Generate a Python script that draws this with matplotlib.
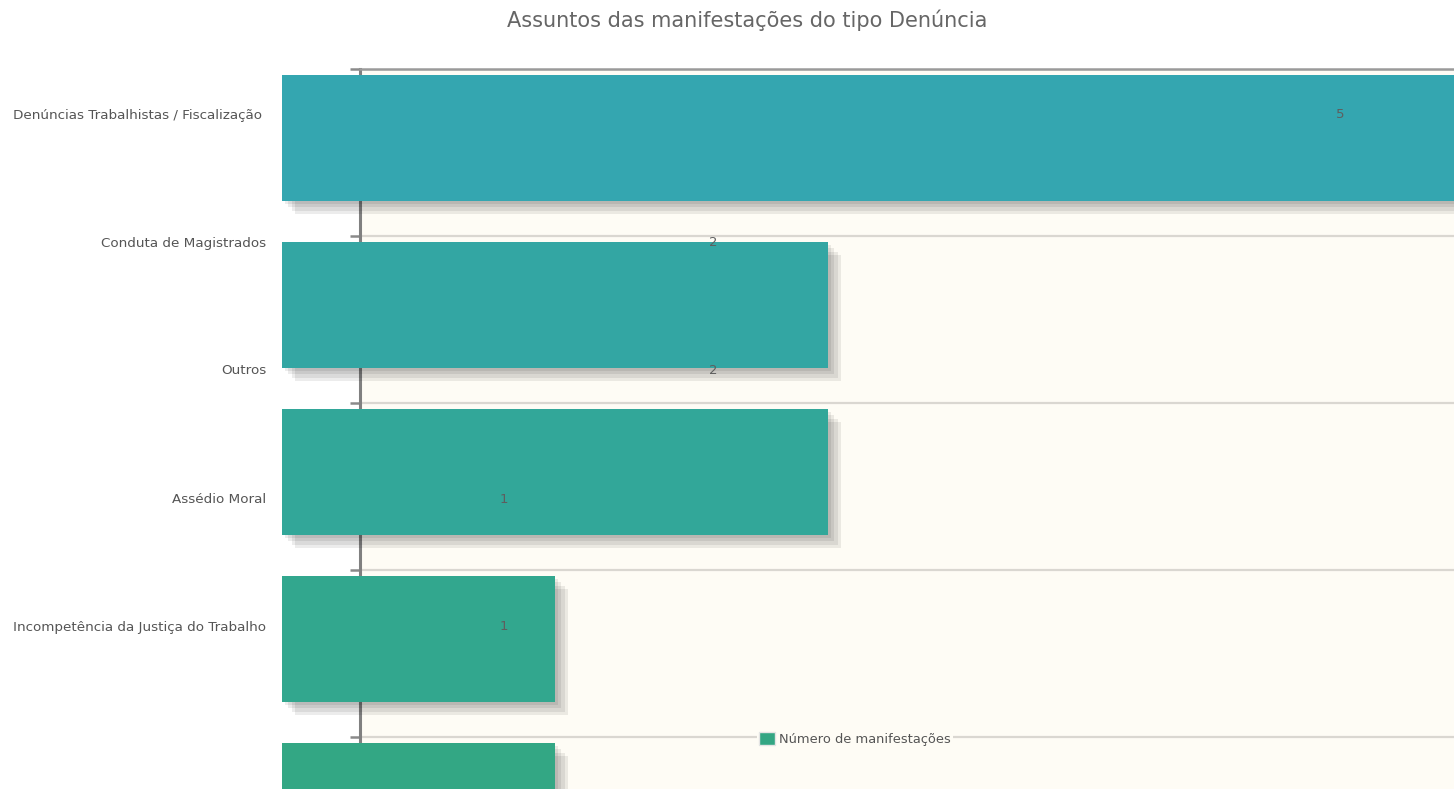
import matplotlib
matplotlib.use("Agg")
import matplotlib.pyplot as plt
import matplotlib.patheffects as pe
from matplotlib.patches import Patch

# ---- data ----
categories = [
    "Denúncias Trabalhistas / Fiscalização ",
    "Conduta de Magistrados",
    "Outros",
    "Assédio Moral",
    "Incompetência da Justiça do Trabalho",
]
values = [5, 2, 2, 1, 1]
bar_colors = ["#34a6b0", "#33a6a3", "#32a799", "#32a78e", "#33a784"]
title = "Assuntos das manifestações do tipo Denúncia"
legend_label = "Número de manifestações"

W, H = 1454, 789
fig = plt.figure(figsize=(W / 100, H / 100), dpi=100)
fig.patch.set_facecolor("white")

# axes geometry (pixels)
ax_left_px, ax_top_px = 360, 68.5
ax = fig.add_axes([ax_left_px / W, 0, 1 - ax_left_px / W, 1 - ax_top_px / H])
ax.set_facecolor("#fefcf5")

x0_px, unit_px = 282, 273       # bar scale
band_px = 167
ax.set_xlim((ax_left_px - x0_px) / unit_px, (W - x0_px) / unit_px)
ax.set_ylim((H - ax_top_px) / band_px, 0)

idx = list(range(len(categories)))
bar_top = [i + 6.5 / band_px for i in idx]
shadow = [pe.SimplePatchShadow(offset=(2.3 * k, -2.3 * k), shadow_rgbFace="black", alpha=0.075)
          for k in (4, 3, 2, 1)] + [pe.Normal()]
bars = ax.barh(bar_top, values, height=126 / band_px, left=0, align="edge",
               color=bar_colors, zorder=3, clip_on=False)
for b in bars:
    b.set_path_effects(shadow)

# grid / axes
ax.set_yticks(range(0, 5))
ax.set_yticklabels([])
ax.set_xticks([])
ax.grid(axis="y", color="#dad7d1", linewidth=1.6, zorder=0)
ax.set_axisbelow(True)
ax.tick_params(axis="y", direction="out", length=7, width=1.8, color="#8a8a8a")
for s in ("right", "bottom"):
    ax.spines[s].set_visible(False)
ax.spines["left"].set_color("#808080")
ax.spines["left"].set_linewidth(2.2)
ax.spines["top"].set_color("#9a9a9a")
ax.spines["top"].set_linewidth(1.8)

# category labels and value labels (jqplot-style offset positions)
label_y0 = (115 - ax_top_px) / band_px
label_step = 128 / band_px
lab_x = (266 - x0_px) / unit_px
val_x0 = (295 - x0_px) / unit_px
val_step = 209 / unit_px
for i, (cat, v) in enumerate(zip(categories, values)):
    y = label_y0 + i * label_step
    ax.text(lab_x, y, cat, ha="right", va="center", fontsize=9.7,
            color="#555555", clip_on=False)
    ax.text(val_x0 + v * val_step, y, str(v), ha="center", va="center",
            fontsize=9.5, color="#5e5e5e", zorder=5)

fig.text(747 / W, 1 - 20 / H, title, ha="center", va="center",
         fontsize=15, color="#666666")

leg = fig.legend(handles=[Patch(facecolor="#33a683", edgecolor="#e4e4e4", linewidth=1.0)],
                 labels=[legend_label], loc="center",
                 bbox_to_anchor=(855 / W, 1 - 739 / H), frameon=True,
                 fontsize=9.4, handlelength=1.2, handleheight=1.2,
                 handletextpad=0.3, borderpad=0.2, labelcolor="#555555")
leg.get_frame().set_facecolor("#fefcf5")
leg.get_frame().set_edgecolor("none")
leg.get_frame().set_alpha(1.0)

fig.savefig("out.png", dpi=100)
